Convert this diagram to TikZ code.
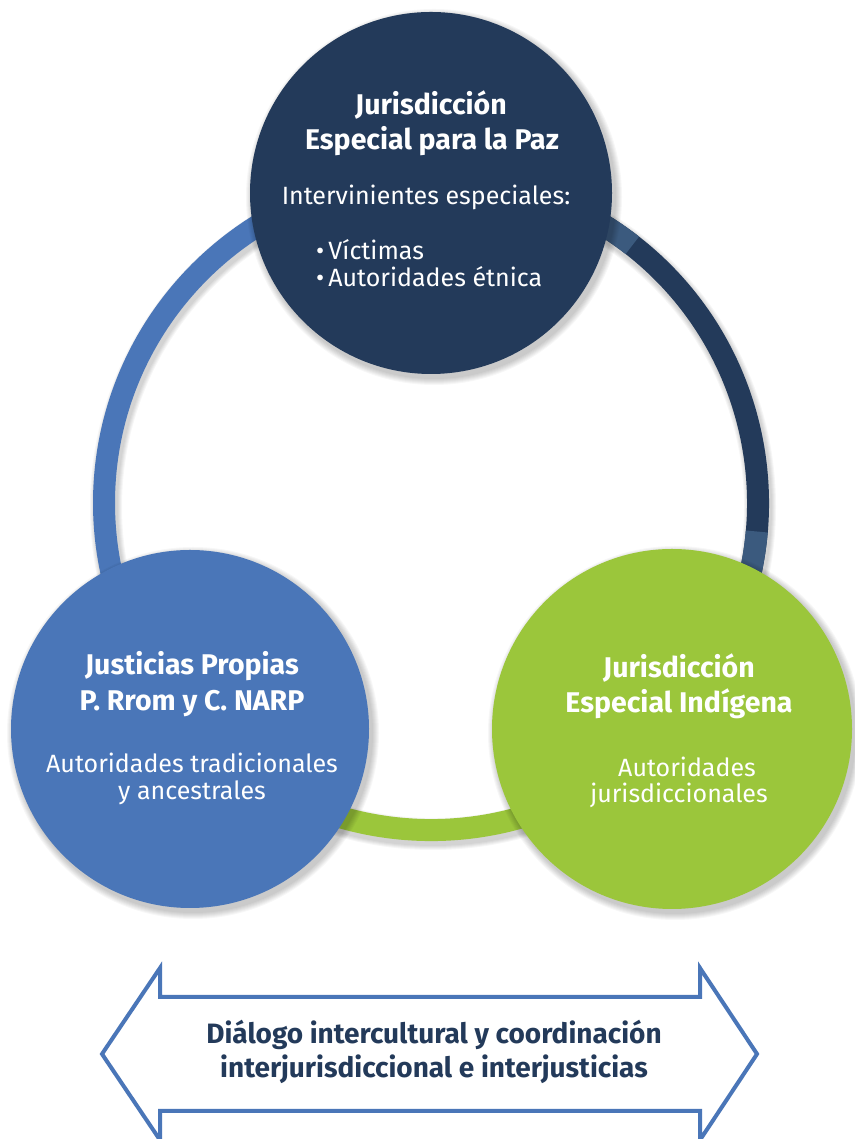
\documentclass[tikz,border=0pt]{standalone}
\usepackage{fontspec}
\setmainfont{Fira Sans}
\definecolor{navy}{HTML}{233A5A}
\definecolor{lnavy}{HTML}{3B5A7E}
\definecolor{mblue}{HTML}{4A76B8}
\definecolor{mgreen}{HTML}{9BC63B}
\newcommand\mycircshadow[3]{%
  \foreach \k in {1,...,7}{\fill[black,opacity=0.03] (#1+3,#2-4) circle ({#3+\k});}}
\begin{document}
\begin{tikzpicture}[x=1pt,y=1pt,
  bigcirc/.style={circle,minimum size=#1,inner sep=0pt,draw=none},
  ttl/.style={text=white,font=\fontsize{28.5}{32}\selectfont\bfseries,anchor=base,inner sep=0pt},
  bdy/.style={text=white,font=\fontsize{25}{30}\selectfont,anchor=base,inner sep=0pt},
  arrtxt/.style={text=navy,font=\fontsize{28}{32}\selectfont\bfseries,anchor=base,inner sep=0pt},
  ring/.style={line width=22pt},
]
\useasboundingbox (0,0) rectangle (854,1139);
\fill[white] (0,0) rectangle (854,1139);
% ring shadow
\foreach \k in {1,...,5}{\draw[black,opacity=0.035,line width={22+2*\k}] (433,632) circle (327);}
% ring
\draw[ring,mgreen] (431,636) ++(205:327) arc[start angle=205,end angle=335,radius=327];
\draw[ring,mblue] (431,636) ++(88:327) arc[start angle=88,end angle=215,radius=327];
\draw[ring,navy] (431,636) ++(-35:327) arc[start angle=-35,end angle=92,radius=327];
\draw[ring,lnavy] (431,636) ++(52:327) arc[start angle=52,end angle=62,radius=327];
\draw[ring,lnavy] (431,636) ++(-14:327) arc[start angle=-14,end angle=-5,radius=327];
% circle shadows
\mycircshadow{431}{946}{181}
\mycircshadow{190}{410}{179}
\mycircshadow{672}{410}{180}
% circles
\node[bigcirc=362pt,fill=navy] (jep) at (431,946) {};
\node[bigcirc=358pt,fill=mblue] (jp) at (190,410) {};
\node[bigcirc=360pt,fill=mgreen] (jei) at (672,410) {};
% top texts
\node[ttl] (jep1) at (431,1024) {Jurisdicción};
\node[ttl] (jep2) at (432,989) {Especial para la Paz};
\node[bdy] (jep3) at (426,934) {Intervinientes especiales:};
\node[bdy,anchor=base west] (jep4) at (316,879) {•\hspace{4pt}Víctimas};
\node[bdy,anchor=base west] (jep5) at (316,852) {•\hspace{4pt}Autoridades étnica};
% left texts
\node[ttl] (jp1) at (192,464) {Justicias Propias};
\node[ttl] (jp2) at (192,428) {P. Rrom y C. NARP};
\node[bdy] (jp3) at (192,366) {Autoridades tradicionales};
\node[bdy] (jp4) at (192,339) {y ancestrales};
% right texts
\node[ttl] (jei1) at (679,461) {Jurisdicción};
\node[ttl] (jei2) at (679,426) {Especial Indígena};
\node[bdy] (jei3) at (687,362) {Autoridades};
\node[bdy] (jei4) at (679,336) {jurisdiccionales};
% arrow
\draw[mblue,line width=4pt,fill=white,line join=miter]
  (102,85) -- (160,171) -- (160,142) -- (700,142) -- (700,171) -- (757,85)
  -- (700,-1) -- (700,28) -- (160,28) -- (160,-1) -- cycle;
\node[arrtxt] (d1) at (434,95) {Diálogo intercultural y coordinación};
\node[arrtxt] (d2) at (434,61) {interjurisdiccional e interjusticias};
\end{tikzpicture}
\end{document}
